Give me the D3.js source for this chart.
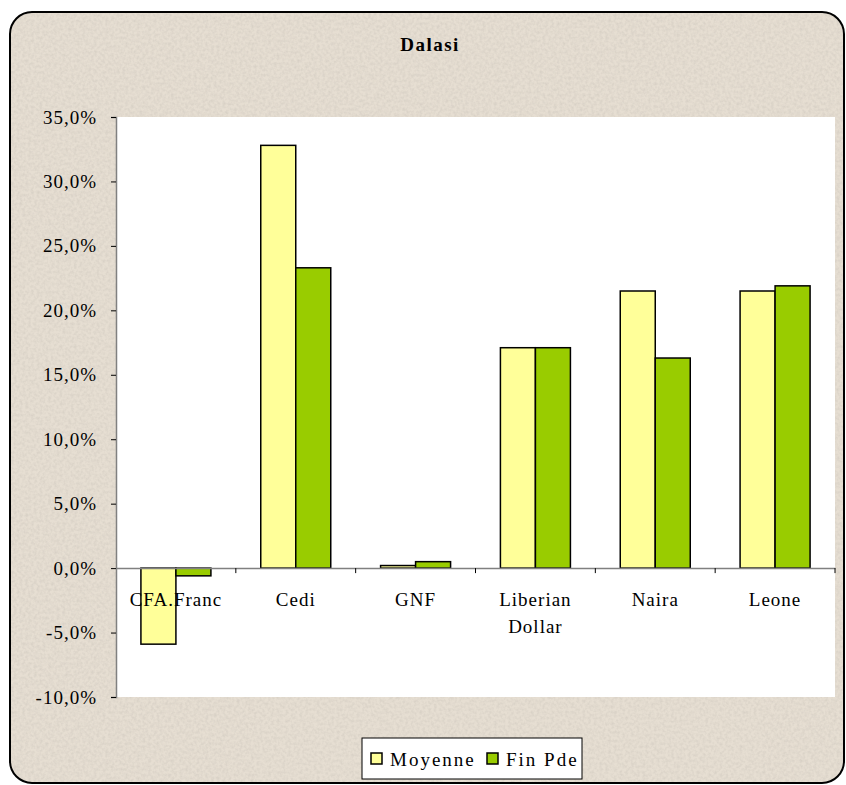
<!DOCTYPE html>
<html>
<head>
<meta charset="utf-8">
<script src="https://cdn.jsdelivr.net/npm/d3@7"></script>
<style>
  body { margin: 0; background: #fff; }
  text { font-family: "Liberation Serif", "Times New Roman", serif; fill: #000; }
</style>
</head>
<body>
<div id="chart"></div>
<script>
var categories = ["CFA.Franc", "Cedi", "GNF", "Liberian Dollar", "Naira", "Leone"];
var moyenne = [-5.9, 32.8, 0.2, 17.1, 21.5, 21.5];
var finPde = [-0.6, 23.3, 0.5, 17.1, 16.3, 21.9];
var seriesNames = ["Moyenne", "Fin Pde"];
var yTicks = [-10, -5, 0, 5, 10, 15, 20, 25, 30, 35];

var w = 846, h = 785;
var colors = {"Moyenne": "#ffff99", "Fin Pde": "#99cc00"};

var svg = d3.select("#chart").append("svg")
    .attr("width", w)
    .attr("height", h);

// textured beige background
var defs = svg.append("defs");
var f = defs.append("filter").attr("id", "grain")
    .attr("x", 0).attr("y", 0).attr("width", "100%").attr("height", "100%");
f.append("feTurbulence").attr("type", "fractalNoise")
    .attr("baseFrequency", 0.35).attr("numOctaves", 2).attr("seed", 3);
f.append("feColorMatrix").attr("type", "matrix")
    .attr("values", "0 0 0 0 0.45  0 0 0 0 0.42  0 0 0 0 0.38  0 0 0 -1.4 0.9");
defs.append("clipPath").attr("id", "frameClip")
    .append("rect").attr("x", 10).attr("y", 12).attr("width", 834).attr("height", 771).attr("rx", 22);

svg.append("rect")
    .attr("x", 10).attr("y", 12).attr("width", 834).attr("height", 771).attr("rx", 22)
    .attr("fill", "#e6ded2");
svg.append("rect")
    .attr("clip-path", "url(#frameClip)")
    .attr("x", 10).attr("y", 12).attr("width", 834).attr("height", 771)
    .attr("filter", "url(#grain)")
    .attr("opacity", 0.35);
svg.append("rect")
    .attr("x", 10).attr("y", 12).attr("width", 834).attr("height", 771).attr("rx", 22)
    .attr("fill", "none").attr("stroke", "#000").attr("stroke-width", 2);

// title
svg.append("text")
    .attr("x", 430).attr("y", 51)
    .attr("text-anchor", "middle")
    .style("font-size", "19px").style("font-weight", "bold").style("letter-spacing", "1.5px")
    .text("Dalasi");

// plot area
var plotLeft = 116, plotRight = 835, plotTop = 117, plotBottom = 697;
svg.append("rect")
    .attr("x", plotLeft).attr("y", plotTop)
    .attr("width", plotRight - plotLeft).attr("height", plotBottom - plotTop)
    .attr("fill", "#fff");

var y = d3.scaleLinear().domain([-10, 35]).range([plotBottom, plotTop]);
var x = d3.scaleBand().domain(categories).range([plotLeft, plotRight]);
var x1 = d3.scaleBand().domain(seriesNames).range([0, 70]);
var off = (x.bandwidth() - 70) / 2;

// y axis
var yAxis = d3.axisLeft(y)
    .tickValues(yTicks)
    .tickSize(5)
    .tickPadding(14)
    .tickFormat(function(d) { return d.toFixed(1).replace(".", ",") + "%"; });
var gy = svg.append("g")
    .attr("transform", "translate(" + plotLeft + ",0)")
    .call(yAxis);
gy.attr("font-family", null).attr("font-size", null);
gy.select(".domain").attr("stroke", "#808080").attr("stroke-width", 1.5);
gy.selectAll(".tick line").attr("stroke", "#000");
gy.selectAll(".tick text")
    .style("font-size", "19px").style("letter-spacing", "1px");

// bars
var rows = categories.map(function(c, i) {
    return {cat: c, vals: [{s: "Moyenne", v: moyenne[i]}, {s: "Fin Pde", v: finPde[i]}]};
});
var groups = svg.selectAll(".grp")
    .data(rows)
    .enter().append("g")
    .attr("class", "grp")
    .attr("transform", function(d) { return "translate(" + (x(d.cat) + off) + ",0)"; });
groups.selectAll("rect")
    .data(function(d) { return d.vals; })
    .enter().append("rect")
    .attr("x", function(d) { return x1(d.s); })
    .attr("width", x1.bandwidth())
    .attr("y", function(d) { return y(Math.max(0, d.v)); })
    .attr("height", function(d) { return Math.abs(y(d.v) - y(0)); })
    .attr("fill", function(d) { return colors[d.s]; })
    .attr("stroke", "#000")
    .attr("stroke-width", 1.5);

// x axis at zero
var xAxis = d3.axisBottom(x).tickSize(0).tickFormat("");
var gx = svg.append("g")
    .attr("transform", "translate(0," + y(0) + ")")
    .call(xAxis);
gx.select(".domain").attr("stroke", "#808080").attr("stroke-width", 1.5);
var sepX = categories.slice(1).map(function(c) { return x(c); }).concat([plotRight]);
gx.selectAll(".sep")
    .data(sepX)
    .enter().append("line")
    .attr("class", "sep")
    .attr("x1", function(d) { return d; })
    .attr("x2", function(d) { return d; })
    .attr("y1", 0).attr("y2", 5)
    .attr("stroke", "#000");

// category labels
var labels = svg.selectAll(".cat")
    .data(categories)
    .enter().append("text")
    .attr("class", "cat")
    .attr("text-anchor", "middle")
    .attr("x", function(d) { return x(d) + x.bandwidth() / 2; })
    .attr("y", 606)
    .style("font-size", "19px").style("letter-spacing", "1px");
labels.each(function(d) {
    var words = d.split(" ");
    var t = d3.select(this);
    words.forEach(function(wd, i) {
        t.append("tspan")
            .attr("x", x(d) + x.bandwidth() / 2)
            .attr("dy", i === 0 ? 0 : 27)
            .text(wd);
    });
});

// legend
var lg = svg.append("g");
lg.append("rect")
    .attr("x", 362).attr("y", 738).attr("width", 220).attr("height", 41)
    .attr("fill", "#fff").attr("stroke", "#000").attr("stroke-width", 1);
var legX = [371, 487];
seriesNames.forEach(function(s, i) {
    lg.append("rect")
        .attr("x", legX[i]).attr("y", 753).attr("width", 11).attr("height", 11)
        .attr("fill", colors[s]).attr("stroke", "#000").attr("stroke-width", 1.5);
    lg.append("text")
        .attr("x", legX[i] + 19).attr("y", 766)
        .style("font-size", "19px").style("letter-spacing", "2px")
        .text(s);
});
</script>
</body>
</html>
